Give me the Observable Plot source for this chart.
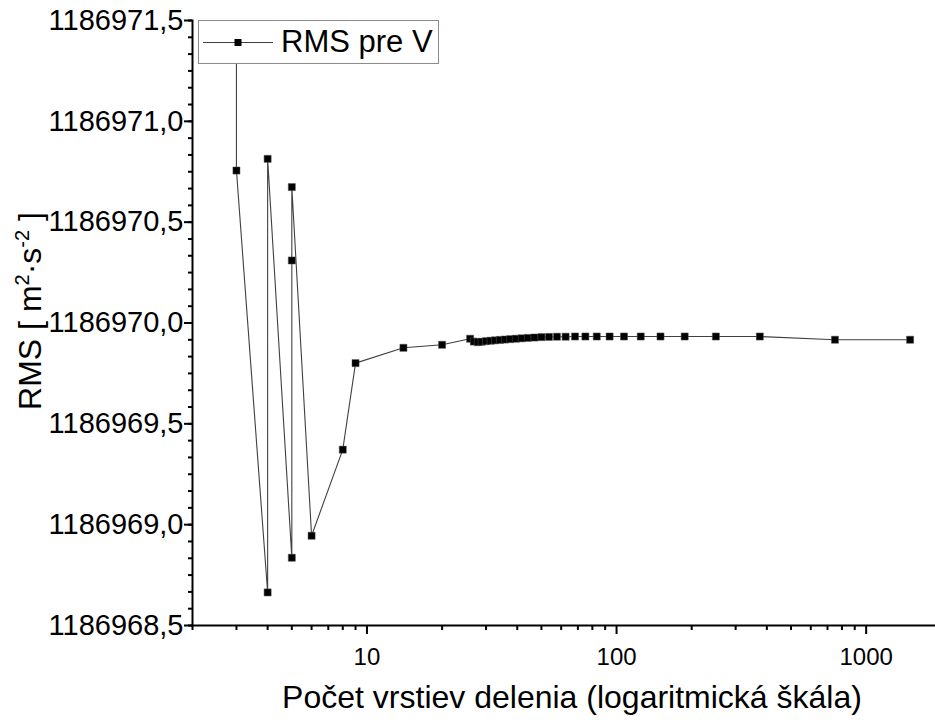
<!DOCTYPE html>
<html><head><meta charset="utf-8">
<script src="https://cdn.jsdelivr.net/npm/d3@7"></script>
<script src="https://cdn.jsdelivr.net/npm/@observablehq/plot@0.6"></script>
<style>
body{margin:0;background:#fff;font-family:"Liberation Sans",Arial,sans-serif;}
#wrap{position:relative;width:935px;height:722px;overflow:hidden;}
#legend{position:absolute;left:198px;top:20px;width:241px;height:44px;background:#fff;border:1px solid #8c8c8c;box-sizing:border-box;}
#legend span{position:absolute;left:82px;top:4px;font-size:31px;line-height:34px;color:#000;white-space:nowrap;}
</style></head><body><div id="wrap"></div>
<script>
// number of layers (x, log scale)
const layers = [3, 3, 4, 4, 5, 5, 5, 6, 8, 9, 14, 20,
  25.9, 26.8, 27.8, 28.8, 30, 31.3, 32.6, 34.1, 35.7, 37.5, 39.5, 41.7, 44.1, 46.9, 50,
  53.6, 57.7, 62.5, 68.2, 75, 83.3, 93.8, 107.1, 125, 150, 187.5, 250, 375, 750, 1500];
// RMS values for V
const rms = [1186971.40, 1186970.756, 1186968.664, 1186970.814, 1186968.836, 1186970.310, 1186970.674,
  1186968.945, 1186969.372, 1186969.801, 1186969.877, 1186969.892,
  1186969.922, 1186969.908, 1186969.905, 1186969.907, 1186969.910, 1186969.912, 1186969.914,
  1186969.916, 1186969.918, 1186969.920, 1186969.922, 1186969.924, 1186969.926, 1186969.928, 1186969.930,
  1186969.931, 1186969.932, 1186969.932, 1186969.933, 1186969.933, 1186969.933, 1186969.933, 1186969.933,
  1186969.933, 1186969.933, 1186969.933, 1186969.933, 1186969.933, 1186969.917, 1186969.917];

const xMajorTicks = [10, 100, 1000];
const xMinorTicks = [2, 3, 4, 5, 6, 7, 8, 9, 20, 30, 40, 50, 60, 70, 80, 90, 200, 300, 400, 500, 600, 700, 800, 900];
const yMajorTicks = [1186968.5, 1186969.0, 1186969.5, 1186970.0, 1186970.5, 1186971.0, 1186971.5];
const yMinorTicks = d3.range(0, 37).map(i => 1186968.5 + i / 12);

const xTitle = "Počet vrstiev delenia (logaritmická škála)";
const yTitle = "RMS [ m2·s-2 ]";
const seriesName = "RMS pre V";

const data = layers.map((x, i) => ({x, y: rms[i]}));
const fmtY = d => d3.format(".1f")(d).replace(".", ",");
const font = "'Liberation Sans', Arial, sans-serif";

const chart = Plot.plot({
  width: 935, height: 722,
  marginLeft: 192, marginRight: 0, marginTop: 20, marginBottom: 97,
  style: {fontFamily: font, background: "white", color: "black"},
  x: {type: "log", domain: [2, 1896]},
  y: {domain: [1186968.5, 1186971.5]},
  marks: [
    Plot.axisX(xMinorTicks, {tickSize: 5, tickPadding: 0, tickFormat: () => "", strokeWidth: 2, label: null}),
    Plot.axisX(xMajorTicks, {tickSize: 9, tickPadding: 13, fontSize: 24, tickFormat: d => String(d), strokeWidth: 2, label: null}),
    Plot.axisY(yMinorTicks, {tickSize: 4, tickPadding: 0, tickFormat: () => "", strokeWidth: 2, label: null}),
    Plot.axisY(yMajorTicks, {tickSize: 8, tickPadding: 1, fontSize: 29, tickFormat: fmtY, strokeWidth: 2, label: null}),
    Plot.frame({anchor: "left", strokeWidth: 2}),
    Plot.frame({anchor: "bottom", strokeWidth: 2}),
    Plot.line(data, {x: "x", y: "y", stroke: "#404040", strokeWidth: 1.1}),
    Plot.dot(data, {x: "x", y: "y", symbol: "square", r: 4, fill: "black", stroke: "#555", strokeWidth: 0.5}),
    Plot.text([xTitle], {frameAnchor: "bottom", dy: 72, dx: 8, lineAnchor: "middle", textAnchor: "middle", fontSize: 32, fill: "black"}),
    Plot.text([yTitle], {frameAnchor: "left", dx: -162, dy: -12, rotate: -90, lineAnchor: "middle", textAnchor: "middle", fontSize: 32, fill: "black"})
  ]
});

// superscripts in y title
chart.querySelectorAll("text").forEach(t => {
  if (t.textContent === yTitle) {
    t.textContent = "";
    const parts = [["RMS [ m", 0], ["2", 1], ["·s", 0], ["-2", 1], [" ]", 0]];
    let shifted = false;
    for (const [s, sup] of parts) {
      const ts = document.createElementNS("http://www.w3.org/2000/svg", "tspan");
      ts.textContent = s;
      if (sup) { ts.setAttribute("font-size", "20"); ts.setAttribute("dy", "-12"); shifted = true; }
      else if (shifted) { ts.setAttribute("dy", "12"); shifted = false; }
      t.appendChild(ts);
    }
  }
});

const wrap = document.getElementById("wrap");
wrap.appendChild(chart);

// legend (HTML overlay inside the plot area)
const legend = document.createElement("div");
legend.id = "legend";
legend.innerHTML = `<svg width="80" height="42" style="position:absolute;left:0;top:0">
  <line x1="4" x2="74" y1="21.5" y2="21.5" stroke="#404040" stroke-width="1.1"/>
  <rect x="35.5" y="18" width="7" height="7" fill="#000"/></svg><span></span>`;
legend.querySelector("span").textContent = seriesName;
wrap.appendChild(legend);
</script>
</body></html>
